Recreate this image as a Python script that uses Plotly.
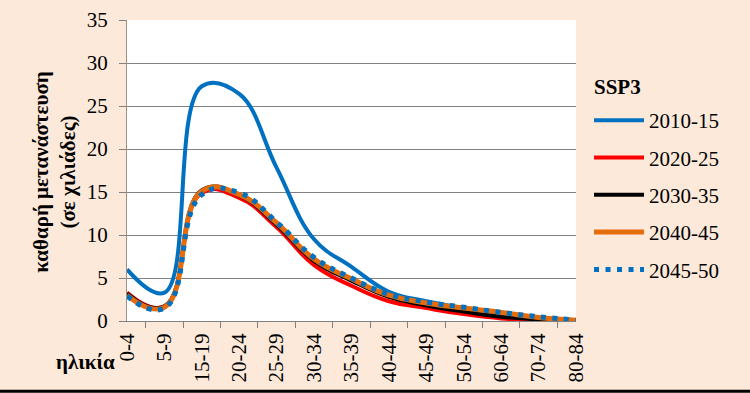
import plotly.graph_objects as go

categories = ["0-4", "5-9", "15-19", "20-24", "25-29", "30-34", "35-39",
              "40-44", "45-49", "50-54", "60-64", "70-74", "80-84"]

s2010_15 = [6.0, 3.3, 27.3, 26.4, 17.8, 9.5, 6.3, 3.4, 2.3, 1.5, 0.8, 0.4, 0.1]
s2020_25 = [3.3, 1.7, 14.9, 14.3, 10.9, 6.5, 4.1, 2.3, 1.5, 0.8, 0.3, 0.1, 0.0]
s2030_35 = [3.2, 1.7, 15.2, 14.6, 11.2, 7.0, 4.7, 2.8, 1.8, 1.1, 0.5, 0.2, 0.0]
s2040_45 = [3.0, 1.6, 15.1, 14.7, 11.4, 7.2, 4.9, 3.0, 2.1, 1.5, 1.0, 0.4, 0.1]
s2045_50 = [2.9, 1.5, 14.7, 14.9, 11.5, 7.4, 5.0, 3.1, 2.2, 1.6, 1.0, 0.5, 0.1]

series_names = ["2010-15", "2020-25", "2030-35", "2040-45", "2045-50"]
y_ticks = [0, 5, 10, 15, 20, 25, 30, 35]

FONT = "Liberation Serif"
FS = 21
BG = "#FDE9DA"

styles = [
    dict(color="#0070C0", width=4, dash="solid", smooth=1.15),
    dict(color="#FF0000", width=4, dash="solid", smooth=1.3),
    dict(color="#000000", width=4, dash="solid", smooth=1.3),
    dict(color="#E46C0A", width=5, dash="solid", smooth=1.3),
    dict(color="#0070C0", width=5, dash="5px,6.5px", smooth=1.3),
]

fig = go.Figure()
for name, vals, st in zip(series_names,
                          [s2010_15, s2020_25, s2030_35, s2040_45, s2045_50],
                          styles):
    fig.add_trace(go.Scatter(
        x=categories, y=vals, name=name, mode="lines",
        line=dict(color=st["color"], width=st["width"], dash=st["dash"],
                  shape="spline", smoothing=st["smooth"]),
        legendgroup=name,
    ))

fig.update_layout(
    width=750, height=393,
    margin=dict(l=127, r=174, t=20, b=72),
    paper_bgcolor=BG, plot_bgcolor="#FFFFFF",
    font=dict(family=FONT, size=FS, color="#000000"),
    showlegend=True,
    legend=dict(
        x=1.029, xanchor="left", y=0.734, yanchor="top",
        bgcolor="rgba(0,0,0,0)", tracegroupgap=7,
        font=dict(family=FONT, size=FS),
        itemwidth=50,
    ),
    xaxis=dict(
        type="category", tickangle=-90, tickson="boundaries",
        ticks="outside", ticklen=6, tickcolor="#808080", tickwidth=1.3,
        showline=True, linecolor="#808080", linewidth=1.3,
        showgrid=False, tickfont=dict(family=FONT, size=FS), automargin=False,
        ticklabelstandoff=3,
    ),
    yaxis=dict(
        range=[0, 35], tickvals=y_ticks, ticks="outside", ticklen=7,
        tickcolor="#808080", showline=True, linecolor="#A09080", linewidth=1.3,
        showgrid=True, gridcolor="#808080", gridwidth=1.3,
        tickfont=dict(family=FONT, size=FS), zeroline=False, automargin=False,
        ticklabelstandoff=7,
    ),
    annotations=[
        dict(text="<b>καθαρή μετανάστευση<br>(σε χιλιάδες)</b>",
             textangle=-90, xref="paper", yref="paper",
             x=-0.163, y=0.495, xanchor="center", yanchor="middle",
             showarrow=False, font=dict(family=FONT, size=FS)),
        dict(text="<b>ηλικία</b>", xref="paper", yref="paper",
             x=-0.093, y=-0.136, xanchor="center", yanchor="middle",
             showarrow=False, font=dict(family=FONT, size=FS)),
        dict(text="<b>SSP3</b>", xref="paper", yref="paper",
             x=1.036, y=0.779, xanchor="left", yanchor="middle",
             showarrow=False, font=dict(family=FONT, size=FS)),
    ],
    shapes=[
        dict(type="line", xref="paper", yref="paper",
             x0=-0.3, x1=1.45, y0=-0.233, y1=-0.233,
             line=dict(color="#000000", width=3)),
    ],
)

fig.write_html("out.html", config={"displayModeBar": False},
               post_script="document.body.style.margin='0';document.body.style.overflow='hidden';")
